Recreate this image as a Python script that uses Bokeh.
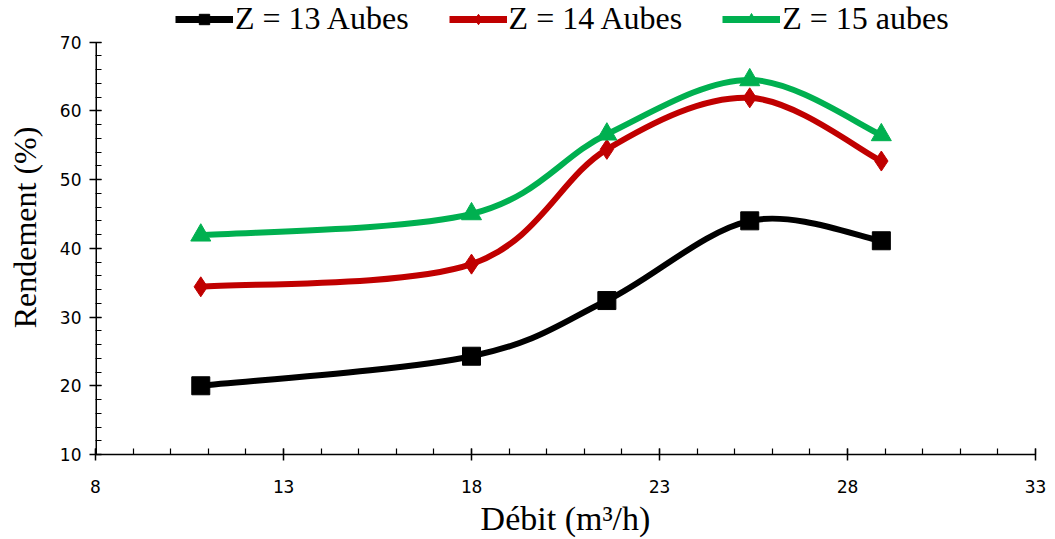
from bokeh.plotting import figure
from bokeh.models import FixedTicker, Legend, LegendItem
from bokeh.embed import file_html
from bokeh.resources import INLINE

# data
debit = [10.8, 18.0, 21.6, 25.4, 28.9]
z13 = [20.0, 24.3, 32.4, 44.0, 41.1]
z14 = [34.4, 37.7, 54.4, 61.9, 52.7]
z15 = [41.9, 45.0, 56.6, 64.5, 56.5]
labels = ["Z = 13 Aubes", "Z = 14 Aubes", "Z = 15 aubes"]
colors = ["#000000", "#C00000", "#00B050"]
markers = ["square", "diamond", "triangle"]
x_ticks = [8, 13, 18, 23, 28, 33]
y_ticks = [10, 20, 30, 40, 50, 60, 70]

# y range is extended above 70 so that the legend can sit inside the frame
p = figure(width=1050, height=539, output_backend="svg", toolbar_location=None,
           x_range=(8, 33), y_range=(10, 76.06),
           min_border_left=95, min_border_right=15, min_border_top=0, min_border_bottom=81)
p.outline_line_color = None
p.grid.visible = False
p.background_fill_color = "white"

# visible part of the y axis line: from first to last tick only
p.segment(x0=[x_ticks[0]], y0=[y_ticks[0]], x1=[x_ticks[0]], y1=[y_ticks[-1]],
          line_color="#000000", line_width=3)


def smooth(xs, ys):
    n = len(xs)
    x0, y0, x1, y1, cx0, cy0, cx1, cy1 = [], [], [], [], [], [], [], []
    for i in range(n - 1):
        im = max(i - 1, 0)
        ip = min(i + 2, n - 1)
        x0.append(xs[i]); y0.append(ys[i])
        x1.append(xs[i + 1]); y1.append(ys[i + 1])
        cx0.append(xs[i] + (xs[i + 1] - xs[im]) / 6.0)
        cy0.append(ys[i] + (ys[i + 1] - ys[im]) / 6.0)
        cx1.append(xs[i + 1] - (xs[ip] - xs[i]) / 6.0)
        cy1.append(ys[i + 1] - (ys[ip] - ys[i]) / 6.0)
    return dict(x0=x0, y0=y0, x1=x1, y1=y1, cx0=cx0, cy0=cy0, cx1=cx1, cy1=cy1)


items = []
for ys, lab, col, mk in zip([z13, z14, z15], labels, colors, markers):
    p.bezier(source=smooth(debit, ys), x0="x0", y0="y0", x1="x1", y1="y1",
             cx0="cx0", cy0="cy0", cx1="cx1", cy1="cy1",
             line_color=col, line_width=6)
    ln = p.line(debit[:1], ys[:1], line_color=col, line_width=7)
    sz = 18 if mk == "square" else 20
    s = p.scatter(debit, ys, marker=mk, size=sz, fill_color=col, line_color=col)
    items.append(LegendItem(label=lab, renderers=[ln, s]))

legend = Legend(items=items, orientation="horizontal", location=(80, 417),
                label_text_font="Liberation Serif", label_text_font_size="32px",
                label_text_color="#000000", glyph_width=58, glyph_height=26,
                spacing=40, padding=0, margin=0, border_line_color=None,
                background_fill_alpha=0, label_standoff=2, label_height=36)
p.add_layout(legend)

# x axis
xa = p.xaxis[0]
xa.ticker = FixedTicker(ticks=x_ticks, minor_ticks=list(range(8, 34)))
xa.major_tick_in = 6
xa.major_tick_out = 6
xa.minor_tick_in = 6
xa.minor_tick_out = 0
xa.axis_line_width = 1.5
xa.major_tick_line_width = 1.5
xa.minor_tick_line_width = 1.2
xa.axis_label = "Débit (m³/h)"
xa.axis_label_text_font = "Liberation Serif"
xa.axis_label_text_font_size = "34px"
xa.axis_label_text_font_style = "normal"
xa.axis_label_text_color = "#000000"
xa.axis_label_standoff = 4
xa.major_label_text_font = "DejaVu Sans Mono"
xa.major_label_text_font_size = "18px"
xa.major_label_standoff = 19
xa.major_label_text_color = "#000000"

# y axis
ya = p.yaxis[0]
ya.ticker = FixedTicker(ticks=y_ticks, minor_ticks=list(range(10, 71, 2)))
ya.axis_line_color = None
ya.major_tick_in = 6
ya.major_tick_out = 6
ya.minor_tick_in = 6
ya.minor_tick_out = 0
ya.major_tick_line_width = 1.5
ya.minor_tick_line_width = 1.2
ya.axis_label = "Rendement (%)"
ya.axis_label_text_font = "Liberation Serif"
ya.axis_label_text_font_size = "32px"
ya.axis_label_text_font_style = "normal"
ya.axis_label_text_color = "#000000"
ya.axis_label_standoff = 14
ya.major_label_text_font = "DejaVu Sans"
ya.major_label_text_font_size = "17px"
ya.major_label_standoff = 8
ya.major_label_text_color = "#000000"

open("out.html", "w").write(file_html(p, INLINE))
